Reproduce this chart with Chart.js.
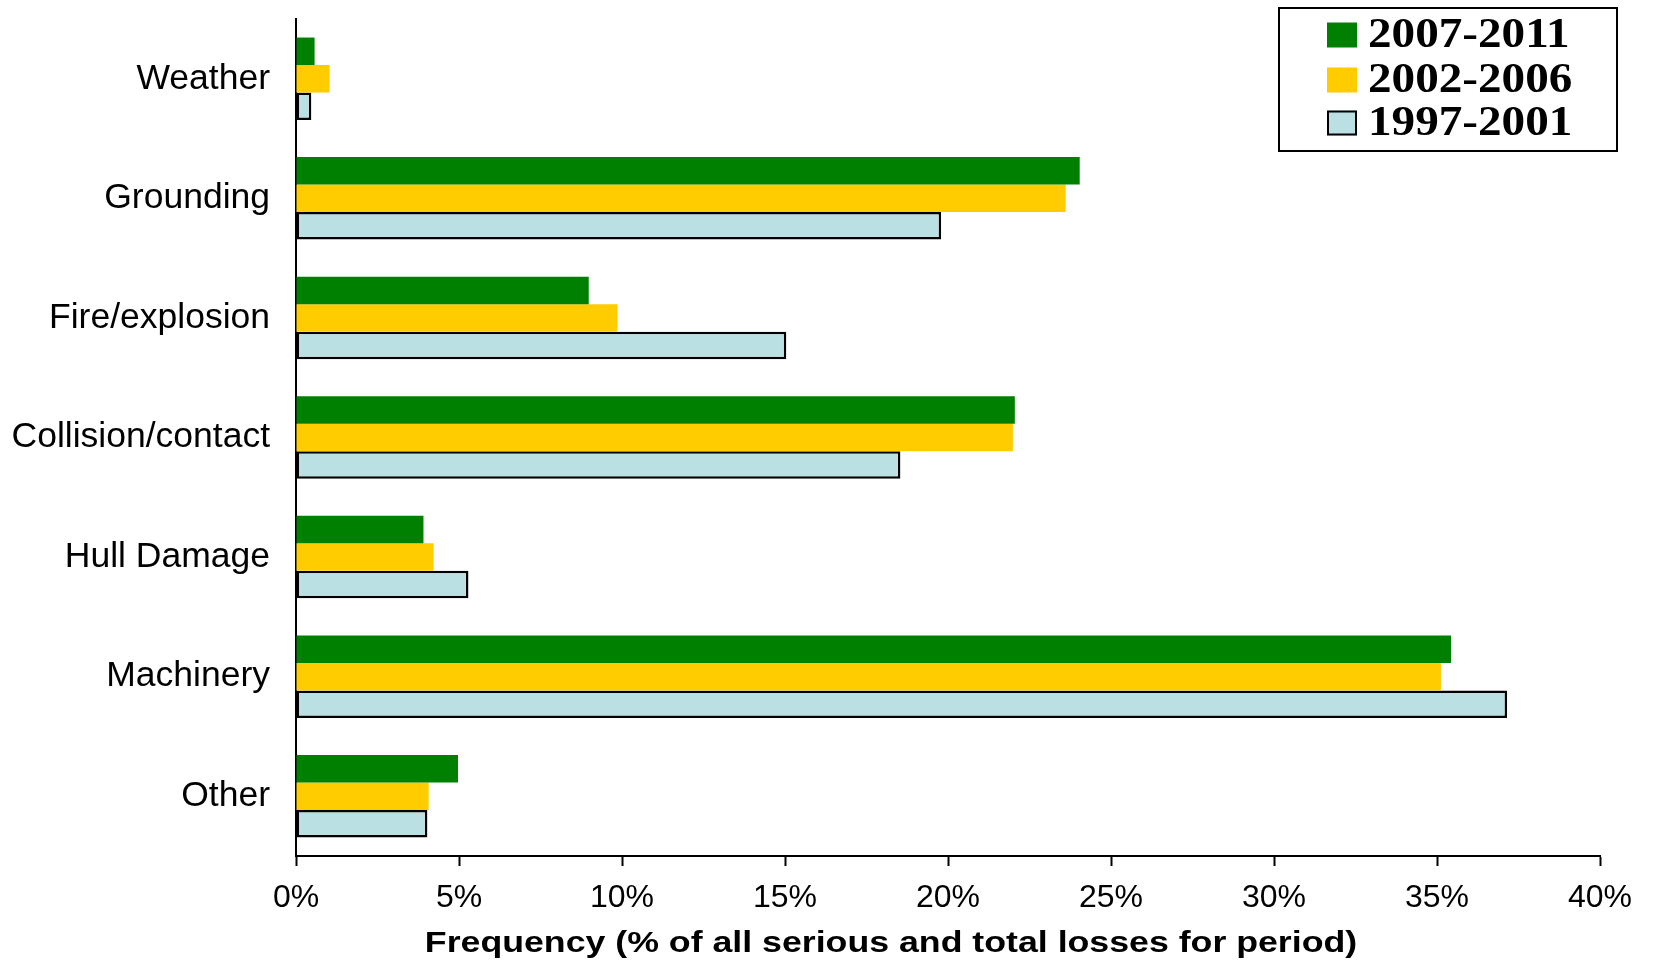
<!DOCTYPE html>
<html>
<head>
<meta charset="utf-8">
<title>Serious and total losses by cause</title>
<script src="https://cdn.jsdelivr.net/npm/chart.js@4/dist/chart.umd.min.js"></script>
<style>
  html, body { margin: 0; padding: 0; background: #ffffff; }
  #wrap { width: 1653px; height: 962px; position: relative; }
  canvas { display: block; }
</style>
</head>
<body>
<div id="wrap"><canvas id="chart" width="1653" height="962"></canvas></div>
<script>
// Loss causes, top to bottom
const categories = ['Weather', 'Grounding', 'Fire/explosion', 'Collision/contact', 'Hull Damage', 'Machinery', 'Other'];

// Share of all serious and total losses in each period (%)
const losses2007_2011 = [0.57, 24.04, 8.98, 22.05, 3.91, 35.43, 4.97];
const losses2002_2006 = [1.03, 23.61, 9.86, 21.99, 4.22, 35.12, 4.07];
const losses1997_2001 = [0.47, 19.79, 15.04, 18.54, 5.29, 37.15, 4.03];

const periodLabels = ['2007-2011', '2002-2006', '1997-2001'];
const xTicks = [0, 5, 10, 15, 20, 25, 30, 35, 40];
const axisTitle = 'Frequency (% of all serious and total losses for period)';

// Boxed legend in the upper right corner, drawn from the dataset styles
const boxedLegend = {
  id: 'boxedLegend',
  afterDraw(chart) {
    const ctx = chart.ctx;
    ctx.save();
    ctx.lineWidth = 2;
    ctx.strokeStyle = '#000';
    ctx.strokeRect(1279, 8, 338, 143);
    const rows = [35, 80, 123];
    chart.data.datasets.forEach((ds, i) => {
      const cy = rows[i];
      ctx.fillStyle = ds.backgroundColor;
      ctx.fillRect(1327, cy - 12.5, 30, 25);
      if (ds.borderWidth) {
        ctx.lineWidth = 2;
        ctx.strokeStyle = ds.borderColor;
        ctx.strokeRect(1328, cy - 11.5, 28, 23);
      }
      ctx.save();
      ctx.translate(1368, cy + 1);
      ctx.scale(1.15, 1.03);
      ctx.fillStyle = '#000';
      ctx.font = 'bold 41px "Liberation Serif", "Times New Roman", serif';
      ctx.textAlign = 'left';
      ctx.textBaseline = 'middle';
      ctx.fillText(ds.label, 0, 0);
      ctx.restore();
    });
    ctx.restore();
  }
};

// Bold x-axis title under the tick labels
const xAxisTitle = {
  id: 'xAxisTitle',
  afterDraw(chart) {
    const ctx = chart.ctx;
    ctx.save();
    ctx.translate(891, 944);
    ctx.scale(1.19, 1);
    ctx.fillStyle = '#000';
    ctx.font = 'bold 30px "Liberation Sans", Arial, sans-serif';
    ctx.textAlign = 'center';
    ctx.textBaseline = 'middle';
    ctx.fillText(axisTitle, 0, 0);
    ctx.restore();
  }
};

new Chart(document.getElementById('chart'), {
  type: 'bar',
  data: {
    labels: categories,
    datasets: [
      { label: periodLabels[0], data: losses2007_2011, backgroundColor: '#008000', borderWidth: 0 },
      { label: periodLabels[1], data: losses2002_2006, backgroundColor: '#FFCC00', borderWidth: 0 },
      { label: periodLabels[2], data: losses1997_2001, backgroundColor: '#BBE0E3', borderColor: '#000000', borderWidth: 2.5 }
    ]
  },
  options: {
    indexAxis: 'y',
    responsive: false,
    animation: false,
    maintainAspectRatio: false,
    layout: { padding: { top: 19, right: 53, left: 0, bottom: 0 } },
    datasets: {
      bar: { barPercentage: 1.0, categoryPercentage: 0.69, borderSkipped: false }
    },
    plugins: {
      legend: { display: false },
      tooltip: { enabled: false },
      title: { display: false }
    },
    scales: {
      x: {
        type: 'linear',
        min: xTicks[0],
        max: xTicks[xTicks.length - 1],
        afterBuildTicks(scale) { scale.ticks = xTicks.map(v => ({ value: v })); },
        afterFit(scale) { scale.height = 106; },
        border: { display: true, color: '#000', width: 2 },
        grid: { drawOnChartArea: false, drawTicks: true, tickLength: 10, tickWidth: 2, tickColor: '#000' },
        ticks: {
          color: '#000',
          padding: 13,
          maxRotation: 0,
          font: { family: '"Liberation Sans", Arial, sans-serif', size: 32 },
          callback: v => v + '%'
        },
        title: { display: false }
      },
      y: {
        afterFit(scale) {
          scale.width = 296;
          scale.paddingTop = 0;
          scale.paddingBottom = 0;
        },
        border: { display: true, color: '#000', width: 2 },
        grid: { drawOnChartArea: false, drawTicks: false },
        ticks: {
          color: '#000',
          padding: 26,
          font: { family: '"Liberation Sans", Arial, sans-serif', size: 35.5 }
        }
      }
    }
  },
  plugins: [boxedLegend, xAxisTitle]
});
</script>
</body>
</html>
